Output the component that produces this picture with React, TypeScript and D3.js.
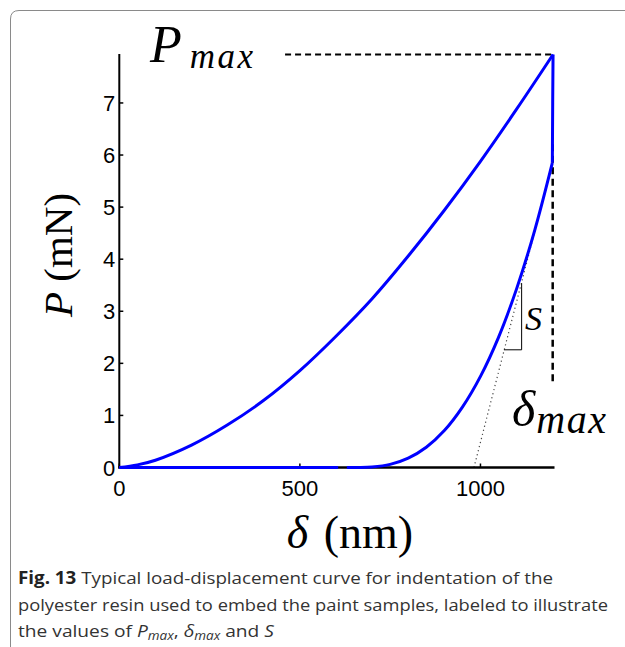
import React from 'react';
import * as d3 from 'd3';

// ---- data ----
const loadD = [0, 50, 100, 200, 300, 400, 500, 600, 700, 800, 900, 1000, 1100, 1201];
const loadP = [0, 0.05, 0.14, 0.43, 0.82, 1.29, 1.86, 2.52, 3.24, 4.06, 4.94, 5.88, 6.88, 7.93];
const unloadTopD = [1201, 1200, 1199];
const unloadTopP = [7.93, 7.0, 5.85];
const unloadD = [1199, 1150, 1100, 1050, 1000, 950, 900, 850, 800, 750, 700, 660, 630];
const unloadP = [5.85, 4.55, 3.43, 2.5, 1.75, 1.16, 0.71, 0.39, 0.18, 0.06, 0.01, 0.001, 0];
const baseD = [0, 606];
const baseP = [0, 0];
const tangentD = [982, 1199];
const tangentP = [0, 5.85];
const stiffD = [1065, 1114, 1114];
const stiffP = [2.26, 2.26, 3.54];
const pMax = 7.93;
const dMax = 1201;
const pMaxDashStart = 459;
const dMaxDashTop = 6.43;
const dMaxDashBottom = 1.6;
const xTicks = [0, 500, 1000];
const yTicks = [0, 1, 2, 3, 4, 5, 6, 7];
const xMax = 1205;
const yMax = 7.94;

const W = 625;
const H = 647;

export default function App() {
  const x = d3.scaleLinear().domain([0, xMax]).range([119.3, 554.5]);
  const y = d3.scaleLinear().domain([0, yMax]).range([467.5, 54]);
  const zip = (a: number[], b: number[]) => a.map((v, i) => [v, b[i]] as [number, number]);
  const smooth = d3.line<[number, number]>().x(d => x(d[0])).y(d => y(d[1])).curve(d3.curveCatmullRom.alpha(0.5));
  const lin = d3.line<[number, number]>().x(d => x(d[0])).y(d => y(d[1]));
  const blue = '#0000ff';
  const serif = '"Liberation Serif", "DejaVu Serif", serif';
  const sans = '"Liberation Sans", Arial, sans-serif';
  const cap = '"Open Sans", "Noto Sans", sans-serif';

  return (
    <svg width={W} height={H} style={{ position: 'absolute', left: 0, top: 0 }} xmlns="http://www.w3.org/2000/svg">
      <rect x={0} y={0} width={W} height={H} fill="#fff" />
      {/* frame */}
      <path d={`M10.5,${H + 2} L10.5,19 Q10.5,10.5 19,10.5 L${W + 2},10.5`} fill="none" stroke="#8a8a8a" strokeWidth={1} />

      {/* dashed annotations */}
      <path d={lin([[pMaxDashStart, pMax], [dMax, pMax]])!} stroke="#000" strokeWidth={2.2} strokeDasharray="6,4" fill="none" />
      <path d={lin([[dMax - 1, dMaxDashTop], [dMax - 1, dMaxDashBottom]])!} stroke="#000" strokeWidth={2.5} strokeDasharray="7,4.5" fill="none" />

      {/* tangent (dotted) */}
      <path d={lin(zip(tangentD, tangentP))!} stroke="#444" strokeWidth={1.2} strokeDasharray="1.2,3" fill="none" />
      {/* stiffness triangle */}
      <path d={lin(zip(stiffD, stiffP))!} stroke="#000" strokeWidth={1} fill="none" />

      {/* axes */}
      <line x1={x(0)} x2={x(0)} y1={y(0) + 1} y2={y(yMax)} stroke="#000" strokeWidth={2} />
      <line x1={x(0) - 1} x2={x(xMax)} y1={y(0)} y2={y(0)} stroke="#000" strokeWidth={2.5} />
      {yTicks.map(t => (
        <g key={'y' + t}>
          <line x1={x(0)} x2={x(0) + 4} y1={y(t)} y2={y(t)} stroke="#000" strokeWidth={1.5} />
          <text x={x(0) - 4} y={y(t) + 8} textAnchor="end" fontFamily={sans} fontSize={22} fill="#000">{t}</text>
        </g>
      ))}
      {xTicks.map(t => (
        <g key={'x' + t}>
          <line x1={x(t)} x2={x(t)} y1={y(0)} y2={y(0) - 4} stroke="#000" strokeWidth={1.5} />
          <text x={x(t)} y={y(0) + 28} textAnchor="middle" fontFamily={sans} fontSize={22} fill="#000">{t}</text>
        </g>
      ))}

      {/* curves */}
      <path d={lin(zip(baseD, baseP))!} stroke={blue} strokeWidth={3} fill="none" />
      <path d={smooth(zip(loadD, loadP))!} stroke={blue} strokeWidth={3} fill="none" strokeLinejoin="round" />
      <path d={lin(zip(unloadTopD, unloadTopP))!} stroke={blue} strokeWidth={3} fill="none" />
      <path d={smooth(zip(unloadD, unloadP))!} stroke={blue} strokeWidth={3} fill="none" strokeLinejoin="round" />

      {/* labels */}
      <text x={150} y={62} fontFamily={serif} fontStyle="italic" fontSize={52} fill="#000">
        P<tspan fontSize={35} dy={6} dx={8} letterSpacing={2.5}>max</tspan>
      </text>
      <text x={512} y={426} fontFamily={serif} fontStyle="italic" fontSize={50} fill="#000">
        δ<tspan fontSize={40} dy={7} dx={1} letterSpacing={1.5}>max</tspan>
      </text>
      <text x={525} y={330} fontFamily={serif} fontStyle="italic" fontSize={34} fill="#000">S</text>

      <text transform="translate(72,255) rotate(-90)" textAnchor="middle" fontFamily={serif} fontSize={41} fill="#000">
        <tspan fontStyle="italic">P</tspan> (mN)
      </text>
      <text x={350} y={548} textAnchor="middle" fontFamily={serif} fontSize={46} fill="#000">
        <tspan fontStyle="italic">δ</tspan><tspan dx={4}> (nm)</tspan>
      </text>

      {/* caption */}
      <g fontFamily={cap} fontSize={17} fill="#333">
        <text x={18} y={584} textLength={535} lengthAdjust="spacingAndGlyphs">
          <tspan fontWeight="bold" fill="#222">Fig. 13</tspan>  Typical load-displacement curve for indentation of the
        </text>
        <text x={18} y={611} textLength={590} lengthAdjust="spacingAndGlyphs">
          polyester resin used to embed the paint samples, labeled to illustrate
        </text>
        <text x={18} y={637} textLength={256} lengthAdjust="spacingAndGlyphs">
          the values of <tspan fontStyle="italic">P</tspan><tspan fontStyle="italic" fontSize={12} dy={3}>max</tspan><tspan dy={-3}>, </tspan><tspan fontStyle="italic">δ</tspan><tspan fontStyle="italic" fontSize={12} dy={3}>max</tspan><tspan dy={-3}> and </tspan><tspan fontStyle="italic">S</tspan>
        </text>
      </g>
    </svg>
  );
}
